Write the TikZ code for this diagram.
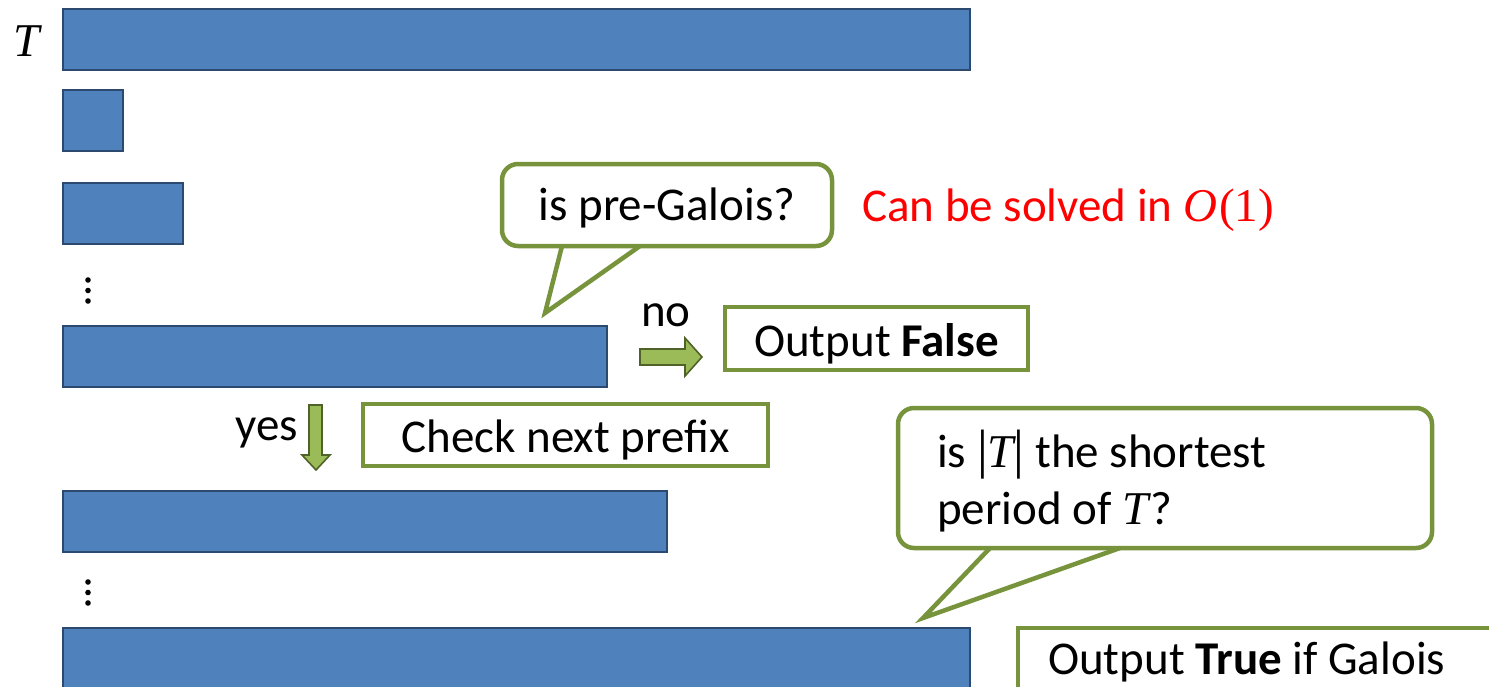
\documentclass[tikz,border=0pt]{standalone}
\usepackage{fontspec}
\setmainfont{Carlito}
\newfontfamily\mfont{Liberation Serif}
\newcommand{\mT}{{\mfont\itshape T}}
\newcommand{\tallbar}{{\mfont\fontsize{54}{57}\selectfont|}}
\begin{document}
\begin{tikzpicture}[x=1pt,y=-1pt,
  bar/.style={fill=barblue,draw=bardark,line width=2,anchor=north west,inner sep=0,outer sep=0},
  gbox/.style={draw=olive1,line width=4.5,fill=white,inner sep=0,outer sep=0},
  bubble/.style={gbox,rounded corners=16},
  txt/.style={font=\fontsize{47}{57}\selectfont,inner sep=0},
  garrow/.style={fill=arrgreen,draw=arrdark,line width=1.6,line join=miter},
  dot/.style={fill=black,draw=none}]
\definecolor{barblue}{HTML}{4F81BD}
\definecolor{bardark}{HTML}{2C4A70}
\definecolor{olive1}{HTML}{77933C}
\definecolor{arrgreen}{HTML}{9BBB59}
\definecolor{arrdark}{HTML}{4F6228}
\clip (0,0) rectangle (1489,686);
\fill[white] (0,0) rectangle (1489,686);

% label T
\node[txt] (tl) at (27,41) {\mT};

% bars
\node[bar,minimum width=907,minimum height=61] (b1) at (63,9) {};
\node[bar,minimum width=60,minimum height=61] (b2) at (63,90) {};
\node[bar,minimum width=120,minimum height=61] (b3) at (63,183) {};
\node[bar,minimum width=544,minimum height=61] (b4) at (63,326) {};
\node[bar,minimum width=604,minimum height=61] (b5) at (63,491) {};
\node[bar,minimum width=907,minimum height=80] (b6) at (63,628) {};

% vertical dots
\foreach \y in {280,290.5,301} {\fill[dot] (88,\y) circle (2.8);}
\foreach \y in {582,592.5,603} {\fill[dot] (88,\y) circle (2.8);}

% callout 1
\node[bubble,minimum width=330,minimum height=82] (c1) at (667,205) {};
\node[txt] (c1t) at ([yshift=-3]c1.center) {is pre-Galois?};
\coordinate (c1a) at (562,246);
\coordinate (c1b) at (640,246);
\coordinate (c1tip) at (545,313);
\fill[white] ([yshift=-3.5]c1a) -- (c1tip) -- ([yshift=-3.5]c1b) -- cycle;
\draw[olive1,line width=4.5,line join=miter] (c1a) -- (c1tip) -- (c1b);

% red note
\node[txt,text=red,anchor=west] (red) at (862,210) {Can be solved in {\mfont\itshape O}\kern2pt{\mfont(1)}};

% no arrow
\node[txt] (no) at (666,315) {no};
\draw[garrow] (640,349) -- (685,349) -- (685,338) -- (702,357) -- (685,376) -- (685,365) -- (640,365) -- cycle;

% Output False
\node[gbox,minimum width=303,minimum height=63] (of) at (876.5,338.5) {};
\node[txt] (oft) at ([yshift=-5]of.center) {Output \textbf{False}};

% yes arrow
\node[txt] (yes) at (267,433) {yes};
\draw[garrow] (309,405) -- (322,405) -- (322,455) -- (330,455) -- (316,470) -- (302,455) -- (309,455) -- cycle;

% Check next prefix
\node[gbox,minimum width=405,minimum height=62] (cn) at (565.5,435) {};
\node[txt] (cnt) at ([yshift=-5]cn.center) {Check next prefix};

% callout 2
\node[bubble,minimum width=534,minimum height=140] (c2) at (1165,478) {};
\node[txt,anchor=west] (c2l1) at (937,455) {is \tallbar\mT\tallbar{} the shortest};
\node[txt,anchor=west] (c2l2) at (937,512) {period of \mT\kern2pt?};
\coordinate (c2a) at (990,548);
\coordinate (c2b) at (1120,548);
\coordinate (c2tip) at (923,618);
\fill[white] ([yshift=-3.5]c2a) -- (c2tip) -- ([yshift=-3.5]c2b) -- cycle;
\draw[olive1,line width=4.5,line join=miter] (c2a) -- (c2tip) -- (c2b);

% Output True box
\node[gbox,anchor=north west,minimum width=520,minimum height=100] (ot) at (1018,628) {};
\node[txt,anchor=west] (ott) at (1048,662) {Output \textbf{True} if Galois};
\end{tikzpicture}
\end{document}
